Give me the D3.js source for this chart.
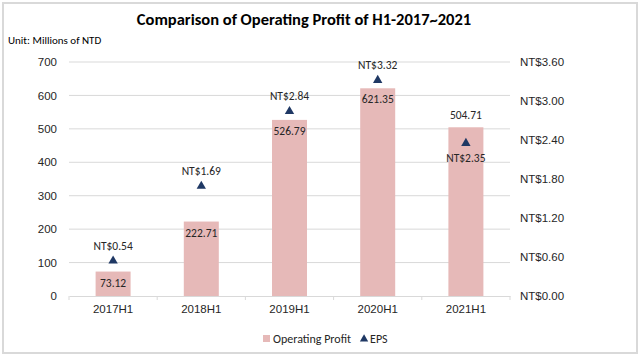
<!DOCTYPE html>
<html><head><meta charset="utf-8">
<script src="https://cdn.jsdelivr.net/npm/d3@7"></script>
<style>body{margin:0;background:#fff}svg{display:block;font-family:Calibri,Carlito,Lato,"Open Sans",sans-serif}</style>
</head><body><svg id="c" width="643" height="359"></svg>
<script>
const categories = ["2017H1","2018H1","2019H1","2020H1","2021H1"];
const profit = [73.12, 222.71, 526.79, 621.35, 504.71];
const eps = [0.54, 1.69, 2.84, 3.32, 2.35];
const leftTicks = [0,100,200,300,400,500,600,700];
const rightTicks = [0,0.6,1.2,1.8,2.4,3.0,3.6];
const title = "Comparison of Operating Profit of H1-2017~2021";
const unitLabel = "Unit: Millions of NTD";

const svg = d3.select("#c");
const m={l:69,r:510,t:62,b:296};
svg.append("rect").attr("x",3).attr("y",3).attr("width",634).attr("height",350)
  .attr("fill","#fff").attr("stroke","#d9d9d9").attr("stroke-width",2);

const xb = d3.scaleBand().domain(categories).range([m.l,m.r]);
const y = d3.scaleLinear().domain([0,700]).range([m.b,m.t]);
const y2 = d3.scaleLinear().domain([0,3.6]).range([m.b,m.t]);
const cx = c => xb(c)+xb.bandwidth()/2;

svg.append("g").selectAll("line").data(leftTicks.filter(d=>d>0)).join("line")
  .attr("x1",m.l).attr("x2",m.r).attr("y1",d=>y(d)).attr("y2",d=>y(d))
  .attr("stroke","#d9d9d9").attr("stroke-width",1);

svg.append("g").selectAll("rect").data(profit).join("rect")
  .attr("x",(d,i)=>cx(categories[i])-17.5).attr("width",35)
  .attr("y",d=>y(d)).attr("height",d=>y(0)-y(d)).attr("fill","#e6b9b8");

const gx = svg.append("g").attr("transform",`translate(0,${m.b})`).call(d3.axisBottom(xb).tickSize(0).tickPadding(9));
gx.select(".domain").attr("stroke","#d9d9d9");
gx.selectAll("text").attr("font-size",11.5).attr("fill","#262626");
svg.append("g").selectAll("line").data(d3.range(categories.length+1)).join("line")
  .attr("x1",i=>m.l+i*xb.step()).attr("x2",i=>m.l+i*xb.step())
  .attr("y1",m.b).attr("y2",m.b+4).attr("stroke","#d9d9d9");

const gy = svg.append("g").attr("transform",`translate(${m.l},0)`)
  .call(d3.axisLeft(y).tickValues(leftTicks).tickSize(0).tickPadding(12));
gy.select(".domain").remove();
gy.selectAll("text").attr("font-size",11.5).attr("fill","#262626");

const gy2 = svg.append("g").attr("transform",`translate(${m.r},0)`)
  .call(d3.axisRight(y2).tickValues(rightTicks).tickSize(0).tickPadding(10).tickFormat(d=>"NT$"+d.toFixed(2)));
gy2.select(".domain").remove();
gy2.selectAll("text").attr("font-size",11.5).attr("fill","#262626");

svg.append("g").selectAll("text").data(profit).join("text")
  .attr("x",(d,i)=>cx(categories[i]))
  .attr("y",(d,i)=> i===4 ? y(d)-8 : y(d)+15)
  .attr("text-anchor","middle").attr("font-size",11.5).attr("fill","#262626")
  .text(d=>d.toFixed(2));

const tri = d3.symbol().type(d3.symbolTriangle).size(38);
svg.append("g").selectAll("path").data(eps).join("path")
  .attr("d",tri)
  .attr("transform",(d,i)=>`translate(${cx(categories[i])},${y2(d)})`)
  .attr("fill","#1f3864");

svg.append("g").selectAll("text").data(eps).join("text")
  .attr("x",(d,i)=>cx(categories[i]))
  .attr("y",(d,i)=> i===4 ? y2(d)+19 : y2(d)-11)
  .attr("text-anchor","middle").attr("font-size",11.5).attr("fill","#262626")
  .text(d=>"NT$"+d.toFixed(2));

svg.append("text").attr("x",304).attr("y",25).attr("text-anchor","middle")
  .attr("font-size",16.5).attr("font-weight","bold").attr("fill","#000").text(title);
svg.append("text").attr("x",8).attr("y",44).attr("font-size",11).attr("fill","#000").text(unitLabel);

const lg = svg.append("g").attr("transform","translate(0,339)");
lg.append("rect").attr("x",263).attr("y",-4).attr("width",7).attr("height",7).attr("fill","#e6b9b8");
const t1 = lg.append("text").attr("x",273).attr("y",4).attr("font-size",12).attr("fill","#262626").text("Operating Profit");
const e1 = 273 + t1.node().getComputedTextLength();
lg.append("path").attr("d",d3.symbol().type(d3.symbolTriangle).size(30)).attr("transform",`translate(${e1+13},0)`).attr("fill","#1f3864");
lg.append("text").attr("x",e1+19).attr("y",4).attr("font-size",12).attr("fill","#262626").text("EPS");
</script></body></html>
